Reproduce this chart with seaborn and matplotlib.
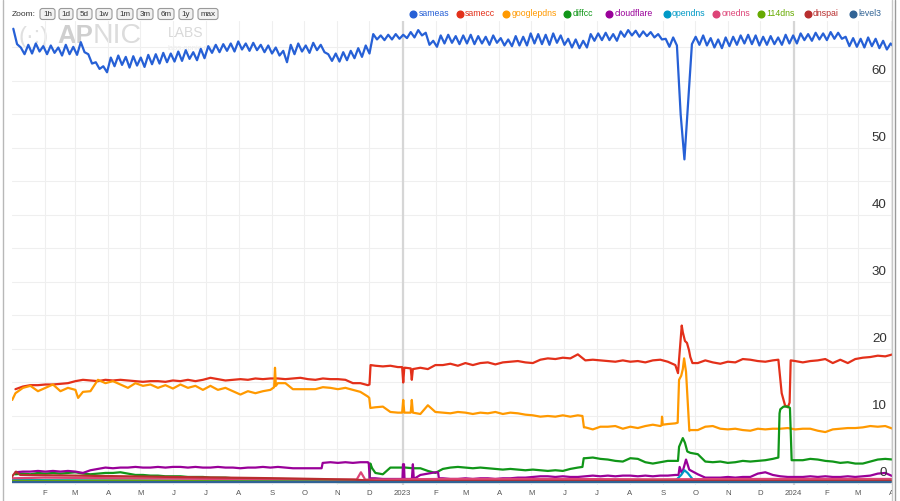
import numpy as np
import pandas as pd
import matplotlib
matplotlib.use("Agg")
import matplotlib.pyplot as plt
import seaborn as sns
from matplotlib.lines import Line2D
from matplotlib.patches import FancyBboxPatch, Rectangle
from matplotlib.transforms import IdentityTransform, blended_transform_factory, offset_copy

# ---------------- data ----------------
START = pd.Timestamp("2022-01-01")

series_names = ["sameas", "samecc", "googlepdns", "diffcc", "cloudflare",
                "opendns", "onedns", "114dns", "dnspai", "level3"]
series_colors = ["#2660d6", "#e3301a", "#ff9900", "#109618", "#990099",
                 "#0099c6", "#dd4477", "#66aa00", "#b82e2e", "#316395"]

# sameas: two readings per week (early-week and late-week)
sameas_hi = [67.8, 65.0, 65.4, 65.6, 65.2, 65.3, 65.0, 65.4, 65.1, 65.8,
             64.0, 62.8, 62.2, 63.5, 63.8, 63.6, 63.7, 63.5, 63.9, 64.0,
             64.2, 64.1, 64.4, 64.6, 64.3, 64.8, 65.2, 65.4, 65.5, 65.6,
             65.9, 65.6, 65.7, 65.4, 65.3, 65.0, 64.5, 65.4, 65.6, 65.3,
             65.7, 65.4, 64.0, 64.1, 64.3, 64.5, 64.9, 65.3, 67.0, 66.8,
             66.9, 67.0, 66.9, 67.3, 67.6, 67.2, 66.0, 66.8, 66.9, 66.7,
             66.8, 66.9, 66.7, 66.6, 66.8, 66.4, 66.2, 66.7, 66.6, 67.1,
             67.0, 66.9, 67.1, 66.8, 66.3, 66.2, 66.0, 67.0, 67.1, 67.2,
             67.0, 67.4, 67.6, 67.5, 67.4, 67.3, 67.0, 66.3, 66.5, 55.0,
             57.0, 66.6, 66.8, 66.4, 66.2, 66.5, 66.6, 66.8, 66.9, 66.8,
             66.6, 66.7, 66.5, 66.9, 66.8, 67.1, 67.0, 67.2, 67.1, 67.3,
             67.2, 66.6, 66.4, 66.3, 66.5, 66.3, 66.0, 65.6]
sameas_lo = [65.5, 64.0, 64.1, 64.4, 64.0, 64.2, 63.8, 64.0, 63.9, 64.3,
             62.6, 61.8, 61.3, 62.2, 62.4, 62.0, 62.3, 62.1, 62.5, 62.6,
             62.8, 62.9, 63.0, 63.3, 63.1, 63.4, 64.2, 64.3, 64.5, 64.4,
             64.7, 64.5, 64.6, 64.3, 64.1, 63.8, 62.8, 64.0, 64.4, 64.2,
             64.6, 64.3, 63.0, 62.9, 63.1, 63.4, 63.6, 64.1, 66.2, 66.1,
             66.2, 66.3, 66.4, 66.5, 66.8, 65.4, 65.1, 65.6, 65.7, 65.5,
             65.6, 65.5, 65.6, 65.4, 65.7, 65.3, 65.2, 65.3, 65.3, 65.6,
             65.5, 65.4, 65.7, 65.4, 65.0, 64.9, 65.0, 66.0, 66.1, 66.1,
             66.0, 66.6, 66.8, 66.6, 66.7, 66.5, 66.2, 65.1, 65.3, 48.3,
             65.5, 65.4, 65.3, 65.0, 64.9, 65.2, 65.4, 65.6, 65.5, 65.3,
             65.4, 65.5, 65.4, 65.6, 65.6, 66.1, 66.0, 66.2, 66.1, 66.3,
             66.3, 65.2, 65.1, 65.0, 65.2, 64.9, 64.7, 65.0]

# weekly readings (mid-week)
samecc_week = [14.0, 14.4, 14.6, 14.6, 14.7, 14.7, 14.8, 14.9, 15.2, 15.4,
               15.3, 15.2, 15.4, 15.3, 15.4, 15.3, 15.2, 15.1, 15.2, 15.2,
               15.1, 15.3, 15.2, 15.4, 15.2, 15.4, 15.7, 15.5, 15.3, 15.4,
               15.5, 15.4, 15.6, 15.5, 15.6, 15.6, 15.5, 15.6, 15.7, 15.5,
               15.4, 15.6, 15.5, 15.5, 15.4, 14.9, 14.9, 14.6, 17.5, 17.4,
               17.5, 17.3, 17.2, 17.0, 17.2, 17.0, 17.6, 17.6, 17.8, 17.5,
               17.9, 17.6, 17.9, 18.0, 17.7, 18.0, 18.1, 18.2, 18.0, 17.9,
               18.4, 18.6, 18.5, 18.7, 18.6, 19.2, 18.3, 18.4, 18.3, 18.2,
               18.1, 18.3, 18.1, 18.2, 18.0, 18.3, 18.4, 18.1, 17.6, 22.5,
               18.8, 17.9, 18.3, 18.0, 17.8, 18.1, 18.0, 18.5, 18.4, 18.2,
               18.1, 18.3, 15.5, 11.3, 18.2, 18.0, 18.2, 18.3, 18.5, 17.9,
               18.4, 17.9, 18.5, 18.7, 18.8, 19.0, 18.9, 19.2]
samecc_extra_days = [334.0, 335.0, 364.5, 365.5, 366.5, 372.5, 373.5, 622.0, 625.5,
                     628.5, 630.4, 632.3, 635.5, 715.7, 718.8, 721.9, 726.2, 727.2]
samecc_extra_vals = [14.7, 17.6, 17.3, 15.0, 17.2, 17.1, 15.4, 16.4, 23.5,
                     21.2, 20.9, 19.8, 17.9, 18.4, 13.4, 11.6, 12.0, 18.3]

googlepdns_week = [13.4, 14.2, 14.5, 13.7, 14.2, 14.7, 13.7, 14.2, 13.9, 13.6,
                   13.7, 15.4, 14.9, 15.2, 14.7, 14.2, 14.9, 14.5, 14.7, 14.2,
                   14.6, 14.1, 14.7, 14.2, 14.5, 13.9, 14.5, 13.9, 14.2, 13.7,
                   13.2, 13.7, 13.4, 13.7, 13.9, 14.9, 14.9, 14.0, 14.0, 14.0,
                   14.0, 14.3, 14.2, 14.0, 14.2, 13.9, 13.6, 12.9, 11.3, 11.4,
                   10.6, 10.5, 10.5, 10.5, 10.3, 11.6, 10.6, 10.5, 10.4, 10.6,
                   10.5, 10.3, 10.5, 10.4, 10.6, 10.3, 10.5, 10.4, 10.2, 10.1,
                   9.9, 10.0, 9.9, 10.1, 9.9, 10.1, 8.3, 8.0, 8.4, 8.4,
                   8.5, 8.1, 8.4, 8.2, 8.5, 8.7, 8.5, 8.8, 8.9, 17.0,
                   7.9, 7.9, 8.4, 8.5, 8.1, 8.0, 8.1, 7.9, 7.8, 8.1,
                   8.0, 8.1, 8.1, 8.2, 8.0, 8.1, 8.1, 7.8, 7.6, 8.0,
                   8.1, 8.2, 8.2, 8.3, 8.5, 8.4, 8.5, 8.1]
googlepdns_extra_days = [0.5, 62.0, 245.0, 245.8, 246.6, 333.8, 334.8, 364.5, 365.5,
                         366.5, 372.5, 373.5, 532.8, 534.2, 606.6, 607.1, 607.8,
                         621.7, 623.0, 625.0, 627.7, 629.5, 632.6]
googlepdns_extra_vals = [12.4, 12.7, 14.3, 17.2, 14.5, 12.7, 11.2, 10.5, 12.4,
                         10.5, 10.5, 12.4, 10.0, 8.3, 8.6, 9.9, 8.7,
                         9.0, 15.4, 16.0, 18.6, 16.6, 7.8]

diffcc_week = [1.3, 1.4, 1.3, 1.5, 1.4, 1.5, 1.4, 1.5, 1.6, 1.4,
               1.3, 1.4, 1.5, 1.5, 1.6, 1.4, 1.2, 1.2, 1.1, 1.1,
               1.0, 1.0, 1.0, 0.9, 0.9, 0.9, 0.8, 0.8, 0.8, 0.7,
               0.7, 0.7, 0.6, 0.6, 0.6, 0.5, 0.5, 0.5, 0.4, 0.3,
               0.3, 0.2, 0.2, 0.15, 0.15, 0.15, 0.15, 0.15, 1.5, 1.3,
               2.3, 2.3, 2.3, 2.2, 2.2, 1.8, 1.5, 2.1, 2.3, 2.4,
               2.3, 2.2, 2.3, 2.2, 2.1, 2.0, 2.1, 2.0, 1.9, 2.0,
               1.9, 1.8, 1.9, 1.8, 2.1, 2.3, 3.7, 3.8, 3.6, 3.5,
               3.3, 3.2, 3.7, 3.6, 3.1, 2.9, 3.1, 3.3, 3.3, 6.7,
               4.5, 4.3, 3.2, 3.1, 3.2, 3.0, 3.1, 3.3, 3.2, 3.3,
               3.4, 3.6, 11.0, 11.4, 3.4, 3.4, 3.6, 3.5, 3.3, 3.2,
               3.0, 3.1, 2.9, 2.9, 3.2, 3.5, 3.6, 3.5]
diffcc_extra_days = [334.0, 334.8, 336.5, 532.8, 534.0, 622.0, 623.0, 628.5, 630.7,
                     715.7, 716.8, 720.5, 726.5, 728.1]
diffcc_extra_vals = [0.15, 2.9, 2.2, 2.4, 3.7, 3.3, 5.4, 6.0, 4.7,
                     3.8, 10.4, 11.4, 11.2, 3.4]

cloudflare_week = [1.6, 1.7, 1.7, 1.8, 1.7, 1.8, 1.7, 1.8, 1.7, 1.5,
                   1.9, 2.1, 2.3, 2.2, 2.3, 2.3, 2.4, 2.3, 2.3, 2.4,
                   2.3, 2.4, 2.4, 2.3, 2.4, 2.3, 2.3, 2.4, 2.3, 2.3,
                   2.2, 2.3, 2.3, 2.4, 2.3, 2.4, 2.3, 2.2, 2.2, 2.2,
                   2.2, 3.0, 3.1, 3.0, 3.1, 3.0, 3.1, 3.1, 0.7, 0.6,
                   0.6, 0.6, 0.6, 2.8, 1.2, 1.4, 1.6, 0.7, 0.6, 0.6,
                   0.7, 0.6, 0.7, 0.7, 0.6, 0.7, 0.7, 0.8, 0.8, 0.9,
                   1.0, 1.0, 0.9, 1.0, 0.9, 0.9, 1.0, 1.1, 1.0, 1.1,
                   1.0, 1.1, 1.1, 1.0, 1.1, 1.0, 1.1, 1.1, 1.2, 1.8,
                   1.9, 1.3, 0.8, 0.8, 0.8, 0.9, 0.8, 0.9, 0.9, 1.4,
                   1.6, 1.2, 1.0, 0.9, 0.9, 0.9, 1.0, 0.9, 1.0, 0.9,
                   0.9, 1.0, 0.9, 1.0, 1.1, 1.4, 1.5, 1.0]
cloudflare_extra_days = [289.3, 290.3, 333.3, 334.2, 364.8, 365.3, 366.2, 366.7,
                         373.6, 375.4, 398.0, 398.8, 622.5, 623.5, 625.5, 629.5, 632.5]
cloudflare_extra_vals = [2.2, 3.0, 3.0, 0.7, 0.6, 2.8, 2.8, 0.6,
                         0.6, 0.6, 1.6, 0.7, 1.2, 2.4, 1.5, 3.5, 2.0]

opendns_days = [0, 60, 150, 250, 330, 340, 450, 550, 620, 625, 628, 631, 636, 700, 800, 821]
opendns_vals = [0.45, 0.4, 0.35, 0.35, 0.3, 0.45, 0.4, 0.35, 0.4, 1.2, 1.9, 1.5, 0.5, 0.45, 0.5, 0.45]
onedns_days = [0, 30, 100, 200, 300, 322, 326, 330, 400, 500, 600, 700, 821]
onedns_vals = [0.7, 0.8, 0.7, 0.6, 0.5, 0.5, 1.6, 0.5, 0.6, 0.6, 0.55, 0.6, 0.6]
dns114_days = [0, 100, 200, 300, 400, 500, 600, 700, 821]
dns114_vals = [0.3, 0.35, 0.25, 0.2, 0.2, 0.25, 0.3, 0.25, 0.3]
dnspai_days = [0, 4, 8, 60, 150, 250, 320, 340, 500, 821]
dnspai_vals = [0.9, 1.7, 1.2, 1.1, 0.9, 0.7, 0.5, 0.3, 0.3, 0.3]
level3_days = [0, 200, 400, 600, 821]
level3_vals = [0.1, 0.1, 0.1, 0.1, 0.1]

month_ticks = ["2022-02-01", "2022-03-01", "2022-04-01", "2022-05-01", "2022-06-01",
               "2022-07-01", "2022-08-01", "2022-09-01", "2022-10-01", "2022-11-01",
               "2022-12-01", "2023-01-01", "2023-02-01", "2023-03-01", "2023-04-01",
               "2023-05-01", "2023-06-01", "2023-07-01", "2023-08-01", "2023-09-01",
               "2023-10-01", "2023-11-01", "2023-12-01", "2024-01-01", "2024-02-01",
               "2024-03-01", "2024-04-01"]
month_labels = ["F", "M", "A", "M", "J", "J", "A", "S", "O", "N", "D", "2023",
                "F", "M", "A", "M", "J", "J", "A", "S", "O", "N", "D", "2024",
                "F", "M", "A"]
y_labels = [0, 10, 20, 30, 40, 50, 60]
zoom_buttons = ["1h", "1d", "5d", "1w", "1m", "3m", "6m", "1y", "max"]

# ---------------- assemble ----------------
frames = []


def add(name, days, vals):
    d = np.asarray(days, dtype=float)
    frames.append(pd.DataFrame({
        "date": START + pd.to_timedelta(d, unit="D"),
        "value": np.asarray(vals, dtype=float),
        "series": name,
    }))


def weekly(vals):
    return list(np.arange(len(vals)) * 7 + 3.5)


n_b = min(len(sameas_hi), len(sameas_lo))
add("sameas", np.concatenate([np.arange(n_b) * 7 + 1.5, np.arange(n_b) * 7 + 5.0]),
    sameas_hi[:n_b] + sameas_lo[:n_b])
add("samecc", weekly(samecc_week) + samecc_extra_days, samecc_week + samecc_extra_vals)
add("googlepdns", weekly(googlepdns_week) + googlepdns_extra_days,
    googlepdns_week + googlepdns_extra_vals)
add("diffcc", weekly(diffcc_week) + diffcc_extra_days, diffcc_week + diffcc_extra_vals)
add("cloudflare", weekly(cloudflare_week) + cloudflare_extra_days,
    cloudflare_week + cloudflare_extra_vals)
add("opendns", opendns_days, opendns_vals)
add("onedns", onedns_days, onedns_vals)
add("114dns", dns114_days, dns114_vals)
add("dnspai", dnspai_days, dnspai_vals)
add("level3", level3_days, level3_vals)
df = pd.concat(frames, ignore_index=True).sort_values(["series", "date"])

# ---------------- figure ----------------
sns.set_theme(style="white")
plt.rcParams["font.family"] = ["Liberation Sans", "DejaVu Sans"]

W, H = 900, 501
fig = plt.figure(figsize=(9, 5.01), dpi=100)
fig.patch.set_facecolor("white")


def fx(x):
    return x / W


def fy(y):
    return 1 - y / H


ax = fig.add_axes([fx(11.7), fy(485), fx(891.7) - fx(11.7), fy(20.7) - fy(485)])
ax.set_facecolor("white")

sns.lineplot(data=df, x="date", y="value", hue="series", hue_order=series_names,
             palette=series_colors, estimator=None, sort=True, legend=False,
             linewidth=1.6, ax=ax)

ax.set_xlim(pd.Timestamp("2022-01-01"), pd.Timestamp("2024-04-01 12:00"))
ax.set_ylim(-0.3, 69)
ax.set_xlabel("")
ax.set_ylabel("")
for s in ax.spines.values():
    s.set_visible(False)

ax.set_axisbelow(True)
ax.set_yticks(np.arange(0, 70, 5))
ax.set_yticklabels([])
ax.grid(axis="y", color="#efefef", linewidth=0.8)
ax.set_xticks(pd.to_datetime(month_ticks))
ax.set_xticklabels(month_labels)
ax.grid(axis="x", color="#efefef", linewidth=0.8)
ax.tick_params(axis="both", length=0)
ax.tick_params(axis="x", pad=3.5, labelsize=5.6, labelcolor="#555555")
for yr in ["2023-01-01", "2024-01-01"]:
    ax.axvline(pd.Timestamp(yr), color="#d6d6d6", linewidth=1.6, zorder=0.6)

# y labels inside the plot on the right, above the gridline
tr = offset_copy(blended_transform_factory(ax.transAxes, ax.transData), fig=fig,
                 x=-5, y=10, units="dots")
for v in y_labels:
    ax.text(1.0, v, str(v), transform=tr, ha="right", va="center",
            fontsize=9.6, color="#333333", zorder=5)

# watermark
ax.text(19, H - 43, "(·:)", transform=IdentityTransform(), fontsize=17,
        color="#e0e0e0", va="baseline", ha="left", zorder=0.5)
ax.text(57, H - 43, "AP", transform=IdentityTransform(), fontsize=18.5,
        color="#cfcfcf", fontweight="bold", va="baseline", ha="left", zorder=0.5)
ax.text(93, H - 43, "NIC", transform=IdentityTransform(), fontsize=20.5,
        color="#dcdcdc", va="baseline", ha="left", zorder=0.5)
ax.text(168, H - 37, "LABS", transform=IdentityTransform(), fontsize=10,
        color="#d9d9d9", va="baseline", ha="left", zorder=0.5)
ax.text(168, H - 50, "labs.apnic.net", transform=IdentityTransform(), fontsize=5.5,
        color="#ececec", va="baseline", ha="left", zorder=0.5)

# legend (custom, top right)
legend_marker_x = [413.3, 460, 506, 567.3, 609.3, 666.7, 716, 761, 807.7, 853.3]
for name, col, cx in zip(series_names, series_colors, legend_marker_x):
    fig.add_artist(Line2D([fx(cx)], [fy(14)], marker="o", markersize=4.8, color=col,
                          linestyle="none", transform=fig.transFigure))
    fig.text(fx(cx + 5.3), fy(14), name, color=col, fontsize=6.3, va="center", ha="left")

# zoom buttons
fig.text(fx(12), fy(14), "Zoom:", fontsize=6.0, color="#333333", va="center", ha="left")
btn_x = [(40, 55), (59, 73), (77, 92), (96, 112), (117, 133), (137, 153),
         (158, 174), (179, 193), (198, 218)]
for lab, (x0, x1) in zip(zoom_buttons, btn_x):
    p = FancyBboxPatch((x0, H - 19.5), x1 - x0, 11, boxstyle="round,pad=0,rounding_size=2.5",
                       transform=IdentityTransform(), facecolor="#f2f2f2",
                       edgecolor="#9a9a9a", linewidth=0.8)
    fig.add_artist(p)
    fig.text(fx((x0 + x1) / 2), fy(14), lab, fontsize=5.8, color="#333333",
             va="center", ha="center")

# clip area to the right of the plot and frame lines
fig.add_artist(Rectangle((891.6, 0), 9, H, transform=IdentityTransform(),
                         facecolor="white", edgecolor="none", zorder=10))
fig.add_artist(Line2D([2.7, 2.7], [0, H], transform=IdentityTransform(),
                      color="#b8b8b8", linewidth=1.0, zorder=11))
fig.add_artist(Line2D([892.3, 892.3], [0, H], transform=IdentityTransform(),
                      color="#c8c8c8", linewidth=1.0, zorder=11))
fig.add_artist(Line2D([894.6, 894.6], [0, H], transform=IdentityTransform(),
                      color="#9a9a9a", linewidth=1.0, zorder=11))

fig.savefig("out.png", dpi=100)
